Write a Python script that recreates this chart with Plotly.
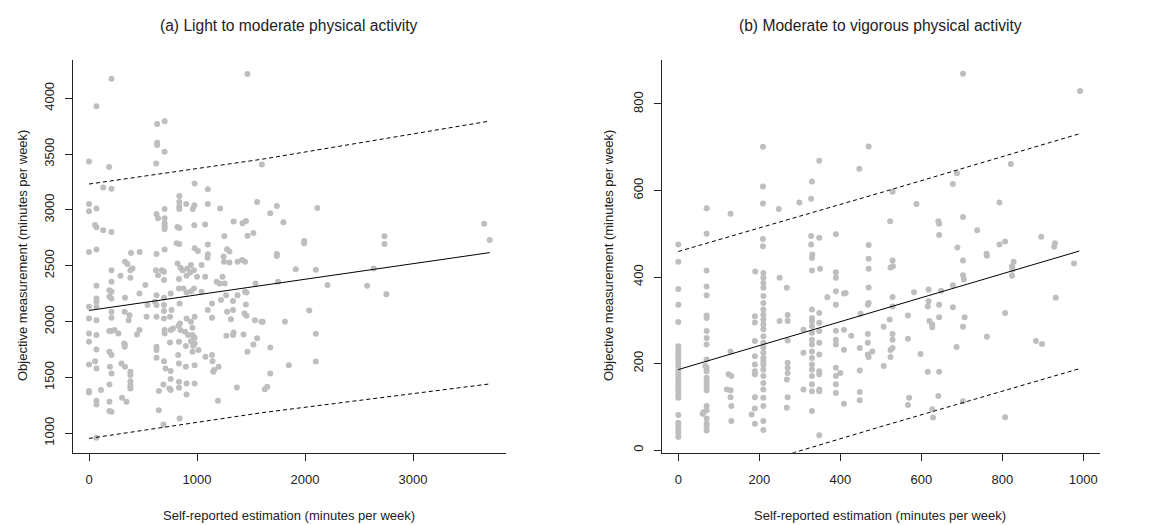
import plotly.graph_objects as go

W, H = 1153, 525

# ---------------- Panel (a): light to moderate physical activity ----------------
xa = [208, 69, 1467, 631, 700, 631, 631, 700, 0, 622, 186, 1600,
      131, 208, 978, 1100, 836, 0, 0, 69, 900, 836, 836, 836, 961, 975, 1100, 1214, 1556,
      625, 639, 700, 700, 700, 700, 700, 819, 836, 975, 1075, 1100, 1253, 1339, 1422, 1453, 1467, 1522,
      56, 69, 131, 208, 0, 69, 389, 469, 625, 700, 811, 836, 978, 1008, 1100, 1278, 1300, 1246,
      1739, 1678, 1800, 2114, 1992, 1992, 2736, 2736, 1739, 3658, 3710,
      208, 333, 356, 403, 383, 619, 675, 694, 639, 819, 847, 867, 911, 944, 972, 936, 1042, 1097, 1250, 1300, 1375, 1417, 1444,
      69, 208, 292, 383, 522, 694, 833, 903, 1000, 1075, 1181, 1208, 1236, 1256, 1542, 833, 875,
      0, 69, 69, 69, 189, 208, 189, 208, 333, 467, 542, 625, 611, 625, 694, 694, 756, 839, 903, 944, 972, 1042, 1139, 1222, 1269, 1333, 1375, 1444, 1458, 1453,
      0, 69, 208, 208, 331, 375, 367, 533, 625, 694, 694, 764, 750, 903, 944, 978, 1100, 1139, 1278, 1333, 1314, 1439, 1458, 1536, 1597,
      0, 0, 69, 186, 208, 236, 272, 331, 331, 444, 467, 625, 625, 700, 700, 756, 778, 828, 842, 847, 889, 917, 958, 958, 978, 944, 833, 750, 897, 964, 978, 1272, 1333, 1339, 1431, 1522, 1556, 1467,
      69, 189, 208, 325, 0, 56, 69, 194, 300, 333, 383, 383, 625, 694, 708, 756, 756, 825, 833, 958, 897, 978, 1014, 1078, 1139, 1144, 1158, 1200, 1150,
      208, 383, 383, 383, 189, 111, 0, 0, 744, 756, 833, 833, 903, 978, 647, 689, 903, 1369,
      69, 69, 189, 189, 208, 306, 347, 647, 689, 839, 1194, 69,
      1739, 1914, 2100, 1750, 2208, 2636, 2575, 2753, 2039, 1608, 1814, 2100, 1678, 1850, 2100, 1678, 1628, 1650]
ya = [4176, 3928, 4218, 3770, 3794, 3603, 3582, 3522, 3433, 3415, 3385, 3406,
      3200, 3191, 3236, 3185, 3125, 3054, 2988, 3012, 3054, 3072, 3030, 3009, 3009, 3042, 3054, 3012, 3072,
      2964, 2925, 3009, 2925, 2881, 2854, 2830, 2848, 2839, 2863, 2869, 2690, 2764, 2896, 2881, 2901, 2770, 2794,
      2866, 2845, 2818, 2803, 2624, 2645, 2615, 2624, 2606, 2645, 2701, 2696, 2657, 2633, 2603, 2648, 2627, 2584,
      3036, 2970, 2890, 3018, 2722, 2701, 2764, 2696, 2606, 2877, 2730,
      2461, 2536, 2515, 2476, 2461, 2461, 2461, 2446, 2416, 2521, 2482, 2461, 2476, 2506, 2461, 2440, 2506, 2572, 2536, 2530, 2536, 2551, 2536,
      2321, 2357, 2410, 2392, 2327, 2372, 2381, 2410, 2401, 2401, 2357, 2342, 2401, 2342, 2342, 2297, 2297,
      2133, 2207, 2178, 2133, 2282, 2267, 2222, 2207, 2213, 2252, 2148, 2237, 2178, 2148, 2148, 2213, 2252, 2163, 2261, 2273, 2297, 2267, 2163, 2193, 2237, 2184, 2237, 2267, 2261, 2154,
      2028, 2013, 2088, 2034, 2088, 2058, 2013, 2043, 2043, 2094, 2028, 2103, 2043, 2028, 1998, 2043, 2103, 2034, 2088, 2103, 2022, 2073, 2052, 2013, 1998,
      1894, 1819, 1879, 1915, 1915, 1924, 1894, 1796, 1775, 1885, 1924, 1775, 1745, 1924, 1894, 1924, 1939, 1963, 1984, 1924, 1909, 1879, 1945, 1879, 1855, 1825, 1819, 1813, 1781, 1784, 1805, 1873, 1879, 1903, 1885, 1796, 1851, 1730,
      1751, 1730, 1700, 1804, 1616, 1646, 1581, 1596, 1625, 1596, 1551, 1521, 1676, 1646, 1581, 1557, 1485, 1700, 1625, 1730, 1596, 1610, 1745, 1685, 1700, 1646, 1566, 1595, 1551,
      1536, 1467, 1431, 1401, 1437, 1387, 1378, 1366, 1401, 1387, 1461, 1408, 1446, 1446, 1378, 1437, 1348, 1410,
      1291, 1258, 1282, 1199, 1193, 1318, 1282, 1207, 1079, 1133, 1291, 960,
      2587, 2470, 2464, 2357, 2327, 2476, 2321, 2246, 2100, 1999, 1999, 1891, 1769, 1610, 1643, 1536, 1395, 1416]

fit_x_a = [0, 3710]
fit_a = [2100, 2618]
band_x_a = [0, 1600, 3710]
upper_a = [3232, 3454, 3796]
lower_a = [954, 1184, 1442]

# ---------------- Panel (b): moderate to vigorous physical activity ----------------
xb = [209, 348, 209, 330, 70, 129, 209, 248, 299, 328, 0, 70, 209, 209, 328, 348, 328, 389, 331,
      703, 470, 447, 821, 688, 678, 529, 588, 793, 523, 642, 644, 703, 644, 738, 470, 689, 793, 807, 896, 928, 930, 761, 992,
      0, 0, 0, 0, 0, 0, 0, 0, 0, 0, 0, 0, 0, 0, 0, 0, 0, 0, 0, 0, 0, 0, 0, 0, 0, 0,
      70, 70, 70, 70, 70, 70, 70, 70, 70, 67, 70, 70, 70, 70, 70, 70, 70, 70, 70, 60, 63, 70, 70, 70, 70,
      129, 124, 131, 120, 129, 129, 131, 131,
      190, 189, 189, 189, 189, 189, 189, 189, 189, 189, 181, 189,
      210, 210, 210, 210, 210, 210, 210, 210, 210, 210, 210, 210, 210, 210, 210, 210, 210, 210, 210, 210, 210, 210, 210, 210, 210, 210,
      250, 268, 250, 270, 270, 270, 270, 270, 270, 268, 270, 268,
      330, 330, 350, 309, 309, 309, 330, 330, 330, 330, 330, 330, 330, 330, 330, 330, 330, 330, 330, 330,
      348, 348, 348, 348, 348, 348, 348, 348, 348, 330, 348,
      368, 389, 389, 389, 389, 409, 389, 389, 389, 409, 389, 389, 389, 389, 400, 409, 409,
      470, 470, 529, 524, 530, 703, 762, 828, 824, 825, 824, 470, 468, 470, 529, 529, 582, 618, 649, 678, 703, 705,
      413, 450, 567, 618, 616, 644, 678, 707, 703, 644, 620, 627, 627, 522, 507, 427, 468, 468, 529, 529, 448, 468, 470,
      479, 524, 524, 529, 567, 598, 687, 762, 807, 883, 898, 507, 448, 616, 644, 448, 448, 570, 567, 642, 703, 627, 629, 807,
      977, 932]
yb = [701, 669, 609, 621, 559, 546, 570, 557, 572, 581, 475, 500, 488, 471, 495, 491, 475, 499, 452,
      870, 702, 650, 661, 640, 615, 597, 569, 572, 529, 529, 523, 539, 497, 508, 474, 468, 475, 482, 493, 470, 478, 454, 830,
      435, 372, 336, 296, 240, 232, 225, 217, 209, 202, 194, 184, 175, 167, 159, 152, 144, 136, 128, 121, 81, 63, 55, 48, 40, 30,
      415, 378, 358, 311, 305, 275, 259, 244, 209, 194, 190, 182, 167, 159, 152, 144, 138, 102, 92, 84, 88, 73, 61, 55, 45,
      228, 175, 171, 140, 138, 122, 102, 67,
      413, 309, 295, 252, 217, 198, 182, 175, 122, 96, 82, 61,
      409, 398, 386, 375, 356, 340, 325, 313, 302, 290, 279, 263, 248, 237, 225, 213, 206, 198, 186, 171, 155, 140, 121, 102, 67, 46,
      398, 375, 298, 312, 298, 253, 202, 190, 178, 163, 122, 98,
      444, 415, 419, 278, 225, 140, 325, 305, 298, 286, 271, 255, 244, 228, 213, 198, 186, 171, 152, 136,
      317, 294, 275, 248, 221, 182, 175, 140, 136, 90, 34,
      353, 411, 398, 367, 336, 362, 276, 255, 244, 278, 190, 171, 152, 132, 178, 232, 107,
      442, 419, 438, 422, 425, 438, 449, 435, 425, 417, 403, 376, 336, 340, 354, 332, 365, 371, 368, 381, 404, 394,
      363, 315, 311, 344, 332, 336, 330, 307, 285, 307, 298, 290, 284, 302, 285, 264, 268, 248, 268, 255, 236, 221, 215,
      228, 231, 215, 236, 257, 222, 238, 262, 317, 252, 245, 194, 184, 181, 181, 134, 115, 121, 104, 125, 113, 94, 75, 76,
      431, 352]

fit_x_b = [0, 990]
fit_b = [186, 460]
band_x_b = [0, 500, 990]
upper_b = [459, 595, 731]
lower_b = [-86, 54, 188]

# ---------------- figure ----------------
POINT = "#BEBEBE"
INK = "#222222"
FONT = "Liberation Sans, Arial, sans-serif"
DASH = "4px,3px"

fig = go.Figure()


def add_panel(fig, xs, ys, fx, fy, bx, up, lo, xref, yref):
    fig.add_trace(go.Scatter(x=xs, y=ys, mode="markers", xaxis=xref, yaxis=yref,
                             marker=dict(color=POINT, size=6, line=dict(width=0)),
                             showlegend=False, hoverinfo="skip"))
    fig.add_trace(go.Scatter(x=fx, y=fy, mode="lines", xaxis=xref, yaxis=yref,
                             line=dict(color="black", width=1), showlegend=False))
    for band in (up, lo):
        fig.add_trace(go.Scatter(x=bx, y=band, mode="lines", xaxis=xref, yaxis=yref,
                                 line=dict(color="black", width=1, dash=DASH),
                                 showlegend=False))


add_panel(fig, xa, ya, fit_x_a, fit_a, band_x_a, upper_a, lower_a, "x", "y")
add_panel(fig, xb, yb, fit_x_b, fit_b, band_x_b, upper_b, lower_b, "x2", "y2")

top_px, bot_px = 60, 452.7
ydom = [1 - bot_px / H, 1 - top_px / H]

axis_common = dict(showline=True, linecolor=INK, linewidth=1, mirror=False,
                   ticks="outside", ticklen=7, tickwidth=1, tickcolor=INK,
                   showgrid=False, zeroline=False,
                   tickfont=dict(family=FONT, size=13, color=INK))

fig.update_layout(
    width=W, height=H,
    margin=dict(l=0, r=0, t=0, b=0),
    paper_bgcolor="white", plot_bgcolor="white",
    showlegend=False,
    xaxis=dict(domain=[72.7 / W, 505.7 / W], range=[-151, 3858],
               tickvals=[0, 1000, 2000, 3000], ticklabelstandoff=8,
               anchor="y", **axis_common),
    yaxis=dict(domain=ydom, range=[826, 4343],
               tickvals=[1000, 1500, 2000, 2500, 3000, 3500, 4000], tickangle=-90,
               ticklabelstandoff=6, anchor="x", **axis_common),
    xaxis2=dict(domain=[661.7 / W, 1099.5 / W], range=[-41, 1040],
                tickvals=[0, 200, 400, 600, 800, 1000], ticklabelstandoff=8,
                anchor="y2", **axis_common),
    yaxis2=dict(domain=ydom, range=[-6.2, 901.7],
                tickvals=[0, 200, 400, 600, 800], tickangle=-90,
                ticklabelstandoff=6, anchor="x2", **axis_common),
)

ann_font = dict(family=FONT, size=13, color=INK)
title_font = dict(family=FONT, size=15.6, color=INK)
annotations = [
    dict(text="(a) Light to moderate physical activity", x=289 / W, y=1 - 25 / H, font=title_font),
    dict(text="(b) Moderate to vigorous physical activity", x=880 / W, y=1 - 25 / H, font=title_font),
    dict(text="Self-reported estimation (minutes per week)", x=289 / W, y=1 - 515 / H, font=ann_font),
    dict(text="Self-reported estimation (minutes per week)", x=880 / W, y=1 - 515 / H, font=ann_font),
    dict(text="Objective measurement (minutes per week)", x=22 / W, y=1 - 256 / H, font=ann_font, textangle=-90),
    dict(text="Objective measurement (minutes per week)", x=608 / W, y=1 - 256 / H, font=ann_font, textangle=-90),
]
for a in annotations:
    fig.add_annotation(xref="paper", yref="paper", showarrow=False,
                       xanchor="center", yanchor="middle", **a)

# remove the default 8px page margin so the figure sits at the window origin
fig.write_html("out.html",
               config={"displayModeBar": False, "staticPlot": True},
               post_script="document.body.style.margin='0px';"
                           "document.documentElement.style.overflow='hidden';")
